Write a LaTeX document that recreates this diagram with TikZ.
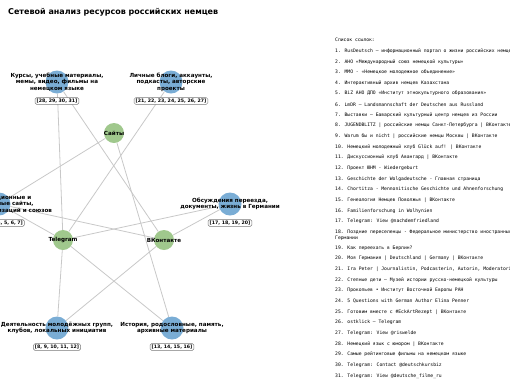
\documentclass[tikz,border=0pt]{standalone}
\usepackage{fontspec}
\setmainfont{DejaVu Sans}
\newfontfamily\listfont{DejaVu Sans Mono}
\usetikzlibrary{backgrounds}
\definecolor{catblue}{RGB}{122,173,213}
\definecolor{platgreen}{RGB}{160,200,141}
\definecolor{edgegray}{RGB}{200,200,200}
\definecolor{boxgray}{RGB}{120,120,120}
\tikzset{
 cat/.style={circle,fill=catblue,minimum size=23pt,inner sep=0pt},
 plat/.style={circle,fill=platgreen,minimum size=20pt,inner sep=0pt},
 lbl/.style={font=\fontsize{5.6}{6.5}\selectfont\bfseries,align=center,inner sep=0pt},
 ids/.style={draw=boxgray,fill=white,rounded corners=1.5pt,line width=0.5pt,inner xsep=1.5pt,inner ysep=1.2pt,font=\fontsize{4.7}{5}\selectfont\bfseries},
 link/.style={draw=edgegray,line width=0.8pt},
 item/.style={anchor=west,inner sep=0pt,font=\listfont\fontsize{4.7}{5.6}\selectfont},
 titletext/.style={anchor=west,inner sep=0pt,font=\fontsize{8}{9.6}\selectfont\bfseries},
}
\begin{document}
\begin{tikzpicture}[x=1pt,y=-1pt]
\useasboundingbox (0,0) rectangle (510,384);
\node[titletext] (title) at (8,12) {Сетевой анализ ресурсов российских немцев};

% circles
\node[cat] (courses) at (57,82) {};
\node[cat] (blogs) at (171,82) {};
\node[plat] (sites) at (114,133) {};
\node[cat] (official) at (-1,204) {};
\node[cat] (discuss) at (230,204) {};
\node[plat] (tg) at (63,240) {};
\node[plat] (vk) at (164,240) {};
\node[cat] (youth) at (57,328) {};
\node[cat] (history) at (172,328) {};

% connectors
\begin{pgfonlayer}{background}
\draw[link] (courses) -- (tg);
\draw[link] (courses) -- (vk);
\draw[link] (blogs) -- (tg);
\draw[link] (sites) -- (official);
\draw[link] (sites) -- (history);
\draw[link] (official) -- (tg);
\draw[link] (official) -- (vk);
\draw[link] (discuss) -- (tg);
\draw[link] (discuss) -- (vk);
\draw[link] (tg) -- (youth);
\draw[link] (tg) -- (history);
\draw[link] (vk) -- (youth);
\end{pgfonlayer}

% labels
\node[lbl] (coursesL) at (courses) {Курсы, учебные материалы,\\мемы, видео, фильмы на\\немецком языке};
\node[lbl] (blogsL) at (blogs) {Личные блоги, аккаунты,\\подкасты, авторские\\проекты};
\node[lbl] (sitesL) at (sites) {Сайты};
\node[lbl] (officialL) at (official) {Информационные и\\официальные сайты,\\немецких организаций и союзов};
\node[lbl] (discussL) at (discuss) {Обсуждения переезда,\\документы, жизнь в Германии};
\node[lbl] (tgL) at (tg) {Telegram};
\node[lbl] (vkL) at (vk) {ВКонтакте};
\node[lbl] (youthL) at (youth) {Деятельность молодёжных групп,\\клубов, локальных инициатив};
\node[lbl] (historyL) at (history) {История, родословные, память,\\архивные материалы};

\node[ids] (coursesI) at (57,101) {[28, 29, 30, 31]};
\node[ids] (blogsI) at (171,101) {[21, 22, 23, 24, 25, 26, 27]};
\node[ids] (officialI) at (-1,223) {[1, 2, 3, 4, 5, 6, 7]};
\node[ids] (discussI) at (230,223) {[17, 18, 19, 20]};
\node[ids] (youthI) at (57,347) {[8, 9, 10, 11, 12]};
\node[ids] (historyI) at (172,347) {[13, 14, 15, 16]};

% reference list
\node[item] (r0) at (335,40) {Список ссылок:};
\node[item] (r1) at (335,51.0) {1. RusDeutsch — информационный портал о жизни российских немцев};
\node[item] (r2) at (335,61.65) {2. АНО «Международный союз немецкой культуры»};
\node[item] (r3) at (335,72.3) {3. ММО - «Немецкое молодежное объединение»};
\node[item] (r4) at (335,82.95) {4. Интерактивный архив немцев Казахстана};
\node[item] (r5) at (335,93.6) {5. BiZ АНО ДПО «Институт этнокультурного образования»};
\node[item] (r6) at (335,104.25) {6. LmDR — Landsmannschaft der Deutschen aus Russland};
\node[item] (r7) at (335,114.9) {7. Выставки — Баварский культурный центр немцев из России};
\node[item] (r8) at (335,125.55) {8. JUGENDBLITZ | российские немцы Санкт-Петербурга | ВКонтакте};
\node[item] (r9) at (335,136.2) {9. Warum бы и nicht | российские немцы Москвы | ВКонтакте};
\node[item] (r10) at (335,146.85) {10. Немецкий молодежный клуб Glück auf! | ВКонтакте};
\node[item] (r11) at (335,157.5) {11. Дискуссионный клуб Авангард | ВКонтакте};
\node[item] (r12) at (335,168.15) {12. Проект ЮНМ - Wiedergeburt};
\node[item] (r13) at (335,178.8) {13. Geschichte der Wolgadeutsche - Главная страница};
\node[item] (r14) at (335,189.45) {14. Chortitza - Mennonitische Geschichte und Ahnenforschung};
\node[item] (r15) at (335,200.1) {15. Генеалогия Немцев Поволжья | ВКонтакте};
\node[item] (r16) at (335,210.75) {16. Familienforschung in Wolhynien};
\node[item] (r17) at (335,221.4) {17. Telegram: View @nachdemfriedland};
\node[item] (r18) at (335,232.05) {18. Поздние переселенцы - Федеральное министерство иностранных};
\node[item] (r18b) at (335,237.8) {Германии};
\node[item] (r19) at (335,248.0) {19. Как переехать в Берлин?};
\node[item] (r20) at (335,258.65) {20. Моя Германия | Deutschland | Germany | ВКонтакте};
\node[item] (r21) at (335,269.3) {21. Ira Peter | Journalistin, Podcasterin, Autorin, Moderatorin};
\node[item] (r22) at (335,279.95) {22. Степные дети — Музей истории русско-немецкой культуры};
\node[item] (r23) at (335,290.6) {23. Прокопьев • Институт Восточной Европы РАН};
\node[item] (r24) at (335,301.25) {24. 5 Questions with German Author Elina Penner};
\node[item] (r25) at (335,311.9) {25. Готовим вместе с \#EckArtRezept | ВКонтакте};
\node[item] (r26) at (335,322.55) {26. ostklick — Telegram};
\node[item] (r27) at (335,333.2) {27. Telegram: View @riswelde};
\node[item] (r28) at (335,343.85) {28. Немецкий язык с юмором | ВКонтакте};
\node[item] (r29) at (335,354.5) {29. Самые рейтинговые фильмы на немецком языке};
\node[item] (r30) at (335,365.15) {30. Telegram: Contact @deutschkursbiz};
\node[item] (r31) at (335,375.8) {31. Telegram: View @deutsche\_filme\_ru};
\end{tikzpicture}
\end{document}
